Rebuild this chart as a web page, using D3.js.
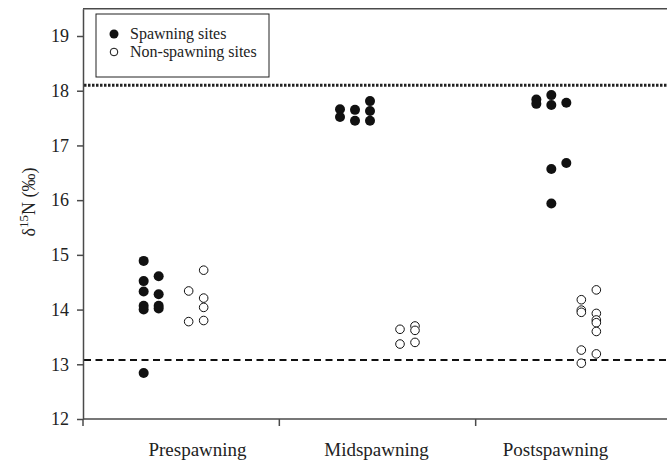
<!DOCTYPE html>
<html lang="en">
  <head>
    <meta charset="utf-8">
    <title>d15N spawning</title>
    <script src="https://d3js.org/d3.v7.min.js"></script>
    <style>
      body { margin: 0; background: #fff; }
      svg { display: block; font-family: "Liberation Serif", "Times New Roman", serif; }
    </style>
  </head>
  <body>
    <script>
// categories and tick labels
const categories = ['Prespawning', 'Midspawning', 'Postspawning']
const yTicks = [12, 13, 14, 15, 16, 17, 18, 19]

// values per column of points (columns are the side-by-side stacks in each period)
const prespawningSpawning = [[14.89, 14.52, 14.33, 14.07, 14.00, 12.84], [14.61, 14.28, 14.07, 14.02]]
const prespawningNonSpawning = [[14.34, 13.78], [14.72, 14.21, 14.04, 13.80]]
const midspawningSpawning = [[17.66, 17.52], [17.65, 17.45], [17.81, 17.63, 17.45]]
const midspawningNonSpawning = [[13.64, 13.37], [13.70, 13.62, 13.40]]
const postspawningSpawning = [[17.84, 17.76], [17.92, 17.74, 16.57, 15.94], [17.78, 16.68]]
const postspawningNonSpawning = [[14.18, 13.99, 13.95, 13.26, 13.02], [14.36, 13.93, 13.81, 13.76, 13.60, 13.19]]

// first column slot used by non-spawning points in each period
const nonSpawningStart = [3, 4, 3]

// reference lines
const spawningLevel = 18.1
const nonSpawningLevel = 13.08

const dimensions = {
  width: 667,
  height: 461,
  margin: { top: 8.65, right: -5, bottom: 42, left: 83 }
}
dimensions.containerWidth = dimensions.width - dimensions.margin.left - dimensions.margin.right
dimensions.containerHeight = dimensions.height - dimensions.margin.top - dimensions.margin.bottom

const serif = '"Liberation Serif", "Times New Roman", serif'

const spawningGroups = [prespawningSpawning, midspawningSpawning, postspawningSpawning]
const nonSpawningGroups = [prespawningNonSpawning, midspawningNonSpawning, postspawningNonSpawning]

const points = []
categories.forEach((cat, ci) => {
  spawningGroups[ci].forEach((col, k) => col.forEach(v => points.push({ cat, slot: k, value: v, filled: true })))
  nonSpawningGroups[ci].forEach((col, k) => col.forEach(v => points.push({ cat, slot: nonSpawningStart[ci] + k, value: v, filled: false })))
})

const svg = d3.select('body')
  .append('svg')
  .attr('width', dimensions.width)
  .attr('height', dimensions.height)

const chart = svg.append('g')
  .attr('transform', `translate(${dimensions.margin.left}, ${dimensions.margin.top})`)

const xScale = d3.scaleBand()
  .domain(categories)
  .range([0, dimensions.containerWidth])

// the category labels sit a little closer together than the bands
const labelScale = d3.scalePoint()
  .domain(categories)
  .range([114, 472])

const slotScale = d3.scalePoint()
  .domain(d3.range(6))
  .range([-37.5, 37.5])

const yScale = d3.scaleLinear()
  .domain([12, 19.5])
  .range([dimensions.containerHeight, 0])

const axisColor = '#4a4a4a'

// frame top
chart.append('line')
  .attr('x1', 0)
  .attr('x2', dimensions.containerWidth)
  .attr('y1', 0)
  .attr('y2', 0)
  .attr('stroke', axisColor)
  .attr('stroke-width', 1.5)

// reference lines
chart.append('line')
  .attr('x1', 1)
  .attr('x2', dimensions.containerWidth)
  .attr('y1', yScale(spawningLevel))
  .attr('y2', yScale(spawningLevel))
  .attr('stroke', '#222')
  .attr('stroke-width', 3)
  .attr('stroke-dasharray', '2.5,1.5')

chart.append('line')
  .attr('x1', 1)
  .attr('x2', dimensions.containerWidth)
  .attr('y1', yScale(nonSpawningLevel))
  .attr('y2', yScale(nonSpawningLevel))
  .attr('stroke', '#111')
  .attr('stroke-width', 2)
  .attr('stroke-dasharray', '7,4.5')

// axes
const yAxis = d3.axisLeft(yScale)
  .tickValues(yTicks)
  .tickSize(6)
  .tickSizeOuter(0)
  .tickPadding(8)
  .tickFormat(d3.format('d'))

const yAxisGroup = chart.append('g').call(yAxis)

const xAxis = d3.axisBottom(labelScale)
  .tickSize(0)
  .tickPadding(24)

const xAxisGroup = chart.append('g')
  .attr('transform', `translate(0, ${dimensions.containerHeight})`)
  .call(xAxis)

xAxisGroup.select('.domain')
  .attr('d', `M0,0H${dimensions.containerWidth}`)

// tick marks on category boundaries
xAxisGroup.selectAll('.bound')
  .data(d3.range(categories.length + 1))
  .join('line')
  .attr('class', 'bound')
  .attr('x1', i => i * xScale.step())
  .attr('x2', i => i * xScale.step())
  .attr('y1', 0)
  .attr('y2', 7)
  .attr('stroke', axisColor)
  .attr('stroke-width', 1.5)

;[yAxisGroup, xAxisGroup].forEach(g => {
  g.attr('font-family', serif)
  g.select('.domain').attr('stroke', axisColor).attr('stroke-width', 1.5)
  g.selectAll('.tick line').attr('stroke', axisColor).attr('stroke-width', 1.5)
  g.selectAll('.tick text')
    .attr('fill', '#222')
    .style('font-family', serif)
})
yAxisGroup.attr('font-size', 18)
xAxisGroup.attr('font-size', 19)

// y label
const yLabel = svg.append('text')
  .attr('transform', `translate(35, 202) rotate(-90)`)
  .attr('text-anchor', 'middle')
  .attr('fill', '#222')
  .style('font-size', '18px')
yLabel.append('tspan').text('δ')
yLabel.append('tspan').attr('dy', -7).style('font-size', '13px').text('15')
yLabel.append('tspan').attr('dy', 7).text('N (‰)')

// points
chart.selectAll('circle.pt')
  .data(points)
  .join('circle')
  .attr('class', 'pt')
  .attr('cx', d => xScale(d.cat) + xScale.bandwidth() / 2 + slotScale(d.slot))
  .attr('cy', d => yScale(d.value))
  .attr('r', d => d.filled ? 5 : 4.3)
  .attr('fill', d => d.filled ? '#111' : '#fff')
  .attr('stroke', '#111')
  .attr('stroke-width', d => d.filled ? 0 : 1)

// legend
const legend = svg.append('g').attr('transform', 'translate(96, 14)')
legend.append('rect')
  .attr('width', 173)
  .attr('height', 63)
  .attr('fill', '#fff')
  .attr('stroke', '#222')
  .attr('stroke-width', 1)

const legendItems = [
  { label: 'Spawning sites', filled: true },
  { label: 'Non-spawning sites', filled: false }
]
const items = legend.selectAll('g.item')
  .data(legendItems)
  .join('g')
  .attr('class', 'item')
  .attr('transform', (d, i) => `translate(18, ${20 + i * 18})`)
items.append('circle')
  .attr('r', d => d.filled ? 4.5 : 3.8)
  .attr('fill', d => d.filled ? '#111' : '#fff')
  .attr('stroke', '#111')
  .attr('stroke-width', d => d.filled ? 0 : 1)
items.append('text')
  .attr('x', 16)
  .attr('dy', '0.33em')
  .attr('fill', '#222')
  .style('font-size', '16px')
  .text(d => d.label)
    </script>
  </body>
</html>
